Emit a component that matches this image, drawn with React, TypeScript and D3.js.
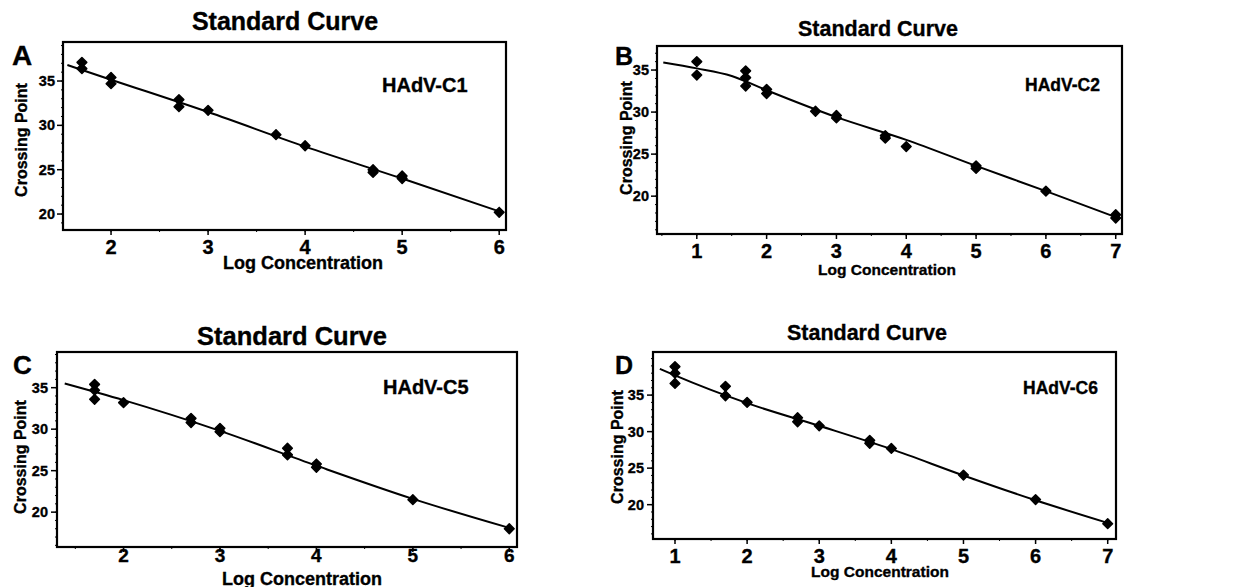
import React from "react";
import * as d3 from "d3";

// ---- data ----
const panelLetters = ["A", "B", "C", "D"];
const strainNames = ["HAdV-C1", "HAdV-C2", "HAdV-C5", "HAdV-C6"];
const titleText = "Standard Curve";
const xAxisTitle = "Log Concentration";
const yAxisTitle = "Crossing Point";
const yTickValues = [20, 25, 30, 35];
const xTicksA = [2, 3, 4, 5, 6];
const xTicksB = [1, 2, 3, 4, 5, 6, 7];
const xTicksC = [2, 3, 4, 5, 6];
const xTicksD = [1, 2, 3, 4, 5, 6, 7];

const aX = [1.7, 1.7, 2, 2, 2.7, 2.7, 3, 3.7, 4, 4.7, 4.7, 5, 5, 6];
const aY = [37.1, 36.4, 35.4, 34.7, 32.9, 32.1, 31.7, 28.95, 27.7, 25.0, 24.7, 24.3, 24.0, 20.2];
const aFitX = [1.55, 2, 3, 4, 5, 6];
const aFitY = [36.8, 35.15, 31.5, 27.6, 24.0, 20.3];

const bX = [1, 1, 1.7, 1.7, 1.7, 2, 2, 2.7, 3, 3, 3.7, 3.7, 4, 5, 5, 6, 7, 7];
const bY = [36.0, 34.4, 34.9, 34.1, 33.1, 32.7, 32.2, 30.1, 29.6, 29.3, 27.2, 26.9, 25.9, 23.6, 23.3, 20.6, 17.8, 17.4];
const bFitX = [0.52, 1, 1.5, 2, 3, 4, 5, 6, 7];
const bFitY = [35.9, 35.2, 34.3, 32.6, 29.4, 26.7, 23.6, 20.6, 17.5];

const cX = [1.7, 1.7, 1.7, 2, 2.7, 2.7, 3, 3, 3.7, 3.7, 4, 4, 5, 6];
const cY = [35.4, 34.7, 33.6, 33.2, 31.3, 30.8, 30.1, 29.7, 27.7, 26.9, 25.8, 25.4, 21.5, 18.0];
const cFitX = [1.39, 2, 3, 4, 5, 6];
const cFitY = [35.5, 33.5, 29.8, 25.6, 21.6, 18.1];

const dX = [1, 1, 1, 1.7, 1.7, 2, 2.7, 2.7, 3, 3.7, 3.7, 4, 5, 6, 7];
const dY = [38.9, 38.0, 36.6, 36.2, 34.9, 34.0, 31.9, 31.35, 30.8, 28.8, 28.4, 27.7, 24.05, 20.7, 17.4];
const dFitX = [0.79, 1, 2, 3, 4, 5, 6, 7];
const dFitY = [38.6, 37.7, 33.9, 30.8, 27.6, 24.0, 20.6, 17.5];

// ---- layout (per panel) ----
type Cfg = {
  letter: string; name: string;
  box: [number, number, number, number]; // L,T,R,B
  xDom: [number, number]; yDom: [number, number];
  xTicks: number[]; px: number[]; py: number[]; fx: number[]; fy: number[];
  title: [number, number, number];
  letterPos: [number, number, number];
  namePos: [number, number, number];
  xTickBase: number; xTickSize: number;
  xTitle: [number, number, number];
  yTitle: [number, number, number];
  yTickRight: number; yTickSize: number;
};

const panels: Cfg[] = [
  {
    letter: panelLetters[0], name: strainNames[0],
    box: [63, 42, 506, 230], xDom: [1.505, 6.07], yDom: [18.2, 39.4],
    xTicks: xTicksA, px: aX, py: aY, fx: aFitX, fy: aFitY,
    title: [285, 30, 25], letterPos: [12, 65, 28], namePos: [382, 85, 20],
    xTickBase: 254, xTickSize: 20, xTitle: [303, 269, 18], yTitle: [27, 140, 16],
    yTickRight: 55, yTickSize: 14.5,
  },
  {
    letter: panelLetters[1], name: strainNames[1],
    box: [657, 46, 1122, 234], xDom: [0.43, 7.09], yDom: [15.5, 37.86],
    xTicks: xTicksB, px: bX, py: bY, fx: bFitX, fy: bFitY,
    title: [878, 36, 21.5], letterPos: [615, 65, 25], namePos: [1025, 85, 17.5],
    xTickBase: 258, xTickSize: 20, xTitle: [887, 275, 15.5], yTitle: [632, 138, 16],
    yTickRight: 649, yTickSize: 14.5,
  },
  {
    letter: panelLetters[2], name: strainNames[2],
    box: [57, 352, 517, 547], xDom: [1.31, 6.08], yDom: [15.8, 39.3],
    xTicks: xTicksC, px: cX, py: cY, fx: cFitX, fy: cFitY,
    title: [292, 345, 25.5], letterPos: [13, 374, 26], namePos: [383, 387, 20],
    xTickBase: 562, xTickSize: 19, xTitle: [302, 585, 18], yTitle: [26, 457, 16],
    yTickRight: 48, yTickSize: 14.5,
  },
  {
    letter: panelLetters[3], name: strainNames[3],
    box: [653, 352, 1116, 539], xDom: [0.695, 7.115], yDom: [15.3, 40.9],
    xTicks: xTicksD, px: dX, py: dY, fx: dFitX, fy: dFitY,
    title: [867, 340, 21.5], letterPos: [615, 374, 25], namePos: [1023, 388, 17.5],
    xTickBase: 563, xTickSize: 20, xTitle: [880, 577, 15.5], yTitle: [623, 447, 16],
    yTickRight: 644, yTickSize: 14.5,
  },
];

const FONT = "'Liberation Sans', Arial, Helvetica, sans-serif";

function Panel({ c }: { c: Cfg }) {
  const [L, T, R, B] = c.box;
  const x = d3.scaleLinear().domain(c.xDom).range([L, R]);
  const y = d3.scaleLinear().domain(c.yDom).range([B, T]);
  const line = d3
    .line<number>()
    .x((_, i) => x(c.fx[i]))
    .y((v) => y(v))
    .curve(d3.curveMonotoneX);
  const sym = d3.symbol().type(d3.symbolDiamond2).size(60)();
  const minorY = d3.range(Math.ceil(c.yDom[0]), Math.floor(c.yDom[1]) + 1);
  const minorX = d3.range(Math.ceil(c.xDom[0] * 2) / 2, c.xDom[1], 0.5);
  return (
    <g fontFamily={FONT} fontWeight="bold" fill="#000" stroke="#000" strokeWidth={0.35}>
      <text x={c.title[0]} y={c.title[1]} fontSize={c.title[2]} textAnchor="middle">
        {titleText}
      </text>
      <text x={c.letterPos[0]} y={c.letterPos[1]} fontSize={c.letterPos[2]}>
        {c.letter}
      </text>
      <text x={c.namePos[0]} y={c.namePos[1]} fontSize={c.namePos[2]} dominantBaseline="central">
        {c.name}
      </text>
      {/* minor ticks */}
      {minorY.map((v) => (
        <line key={"my" + v} x1={L - 2} x2={L} y1={y(v)} y2={y(v)} stroke="#000" strokeWidth={1} />
      ))}
      {minorX.map((v) => (
        <line key={"mx" + v} x1={x(v)} x2={x(v)} y1={B} y2={B + 2} stroke="#000" strokeWidth={1} />
      ))}
      {/* y ticks */}
      {yTickValues.map((v) => (
        <g key={"y" + v}>
          <line x1={L - 6} x2={L} y1={y(v)} y2={y(v)} stroke="#000" strokeWidth={1.5} />
          <text x={c.yTickRight} y={y(v)} fontSize={c.yTickSize} textAnchor="end" dominantBaseline="central">
            {v}
          </text>
        </g>
      ))}
      {/* x ticks */}
      {c.xTicks.map((v) => (
        <g key={"x" + v}>
          <line x1={x(v)} x2={x(v)} y1={B} y2={B + 5} stroke="#000" strokeWidth={1.5} />
          <text x={x(v)} y={c.xTickBase} fontSize={c.xTickSize} textAnchor="middle">
            {v}
          </text>
        </g>
      ))}
      <text x={c.xTitle[0]} y={c.xTitle[1]} fontSize={c.xTitle[2]} textAnchor="middle">
        {xAxisTitle}
      </text>
      <text
        transform={`translate(${c.yTitle[0]},${c.yTitle[1]}) rotate(-90)`}
        fontSize={c.yTitle[2]}
        textAnchor="middle"
      >
        {yAxisTitle}
      </text>
      {/* fit line */}
      <path d={line(c.fy) || ""} fill="none" stroke="#000" strokeWidth={2} />
      {/* points */}
      {c.px.map((v, i) => (
        <path
          key={"p" + i}
          d={sym || ""}
          transform={`translate(${x(v)},${y(c.py[i])})`}
          fill="#000"
          stroke="#000"
          strokeWidth={1.5}
          strokeLinejoin="round"
        />
      ))}
      {/* frame */}
      <rect x={L} y={T} width={R - L} height={B - T} fill="none" stroke="#000" strokeWidth={2.2} />
    </g>
  );
}

export default function App() {
  return (
    <svg
      width={1239}
      height={587}
      style={{ position: "absolute", left: 0, top: 0, background: "#fff" }}
    >
      <rect width={1239} height={587} fill="#fff" />
      {panels.map((c) => (
        <Panel key={c.letter} c={c} />
      ))}
    </svg>
  );
}
